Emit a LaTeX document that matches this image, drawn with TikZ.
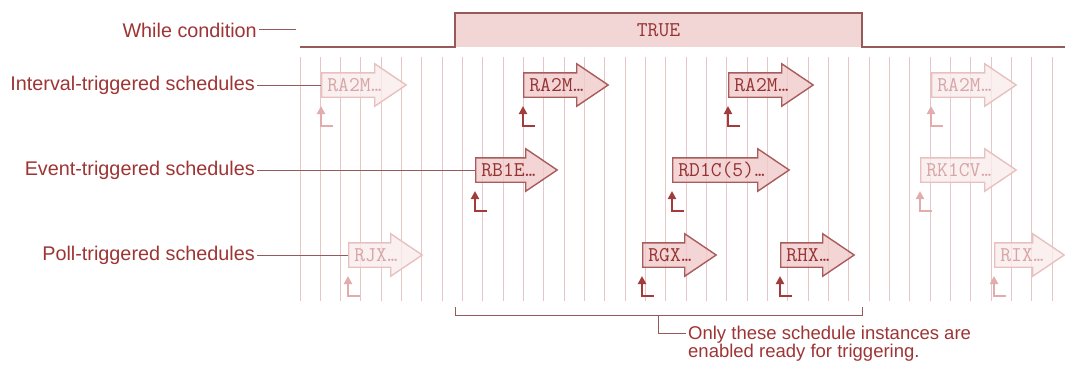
\documentclass[tikz,border=0pt]{standalone}
\usepackage{fontspec}
\setmainfont{Liberation Sans}
\usetikzlibrary{shapes.arrows,arrows.meta}
\definecolor{labelred}{RGB}{158,52,52}
\definecolor{leaderred}{RGB}{150,90,90}
\definecolor{gridpink}{RGB}{230,198,198}
\definecolor{truefill}{RGB}{242,214,214}
\definecolor{livefill}{RGB}{240,202,202}
\definecolor{liveline}{RGB}{168,92,92}
\definecolor{livetext}{RGB}{150,50,50}
\definecolor{idlefill}{RGB}{250,236,236}
\definecolor{idleline}{RGB}{232,192,192}
\definecolor{idletext}{RGB}{215,165,165}
\definecolor{livemark}{RGB}{160,60,60}
\definecolor{idlemark}{RGB}{226,172,172}
\newcommand{\more}{\kern-3pt.\kern-7.5pt.\kern-7.5pt.}
\begin{document}
\begin{tikzpicture}[x=1pt,y=-1pt,
  lbl/.style={text=labelred, font=\fontsize{19.8}{22}\selectfont, inner sep=2pt},
  leader/.style={draw=leaderred, line width=1pt},
  gridln/.style={draw=gridpink, line width=1pt},
  sched/.style={single arrow, single arrow head extend=9pt, single arrow tip angle=68,
    inner xsep=5pt, inner ysep=0pt, text height=18pt, text depth=5pt, align=left,
    font=\ttfamily\fontsize{21}{21}\selectfont, line width=1.4pt, anchor=tail,
    fill opacity=0.8, text opacity=1},
  live/.style={sched, fill=livefill, draw=liveline, text=livetext},
  idle/.style={sched, fill=idlefill, draw=idleline, text=idletext},
  trigon/.style={draw=livemark, line width=2pt, -{Triangle[width=8pt,length=8pt]}},
  trigoff/.style={trigon, draw=idlemark}]
\useasboundingbox (0,0) rectangle (1065,369);

% time grid
\foreach \i in {0,...,37}
  \draw[gridln] ({300+20.33*\i},57) -- ({300+20.33*\i},301);

% while condition
\fill[truefill] (455,13) rectangle (862,47);
\draw[leader, line width=1.3pt] (300,47) -- (455,47) -- (455,13) -- (862,13) -- (862,47) -- (1065,47);
\node[font=\ttfamily\fontsize{21}{21}\selectfont, text=livetext] (truetext) at (658.5,30) {TRUE};

% row labels
\node[lbl, anchor=east] (wlabel) at (259,30) {While condition};
\node[lbl, anchor=east] (ilabel) at (257,85) {Interval-triggered schedules};
\node[lbl, anchor=east] (elabel) at (257,170) {Event-triggered schedules};
\node[lbl, anchor=east] (plabel) at (257,255) {Poll-triggered schedules};

% interval-triggered
\node[idle, text width=55pt] (ra2ma) at (321,85) {RA2M\more};
\node[live, text width=55pt] (ra2mb) at (523,85) {RA2M\more};
\node[live, text width=55pt] (ra2mc) at (728,85) {RA2M\more};
\node[idle, text width=55pt] (ra2md) at (931,85) {RA2M\more};

% event-triggered
\node[live, text width=52pt] (rb1e) at (475,170) {RB1E\more};
\node[live, text width=87pt] (rd1c) at (672,170) {RD1C(5)\more};
\node[idle, text width=66pt] (rk1cv) at (920,170) {RK1CV\more};

% poll-triggered
\node[idle, text width=44pt] (rjx) at (348,255) {RJX\more};
\node[live, text width=44pt] (rgx) at (642,255) {RGX\more};
\node[live, text width=44pt] (rhx) at (780,255) {RHX\more};
\node[idle, text width=40pt] (rix) at (994,255) {RIX\more};

% leaders
\coordinate (wend) at (296,30);
\draw[leader] (wlabel.east) -- (wend);
\draw[leader] (ilabel.east) -- (ra2ma.tail);
\draw[leader] (elabel.east) -- (rb1e.tail);
\draw[leader] (plabel.east) -- (rjx.tail);

% trigger marks
\draw[trigoff] ([shift={(12,41)}]ra2ma.tail) -| ([shift={(0,21)}]ra2ma.tail);
\draw[trigon] ([shift={(12,41)}]ra2mb.tail) -| ([shift={(0,21)}]ra2mb.tail);
\draw[trigon] ([shift={(12,41)}]ra2mc.tail) -| ([shift={(0,21)}]ra2mc.tail);
\draw[trigoff] ([shift={(12,41)}]ra2md.tail) -| ([shift={(0,21)}]ra2md.tail);
\draw[trigon] ([shift={(12,41)}]rb1e.tail) -| ([shift={(0,21)}]rb1e.tail);
\draw[trigon] ([shift={(12,41)}]rd1c.tail) -| ([shift={(0,21)}]rd1c.tail);
\draw[trigoff] ([shift={(12,41)}]rk1cv.tail) -| ([shift={(0,21)}]rk1cv.tail);
\draw[trigoff] ([shift={(12,41)}]rjx.tail) -| ([shift={(0,21)}]rjx.tail);
\draw[trigon] ([shift={(12,41)}]rgx.tail) -| ([shift={(0,21)}]rgx.tail);
\draw[trigon] ([shift={(12,41)}]rhx.tail) -| ([shift={(0,21)}]rhx.tail);
\draw[trigoff] ([shift={(12,41)}]rix.tail) -| ([shift={(0,21)}]rix.tail);

% enabled span
\draw[leader] (455,307) |- (862,315) -- (862,307);
\coordinate (brmid) at (658.5,315);
\node[lbl, anchor=north west, align=left, font=\fontsize{18.5}{15}\selectfont] (note) at (686,324)
  {Only these schedule instances are\\enabled ready for triggering.};
\draw[leader] (brmid) |- ([yshift=-9pt]note.north west);
\end{tikzpicture}
\end{document}
